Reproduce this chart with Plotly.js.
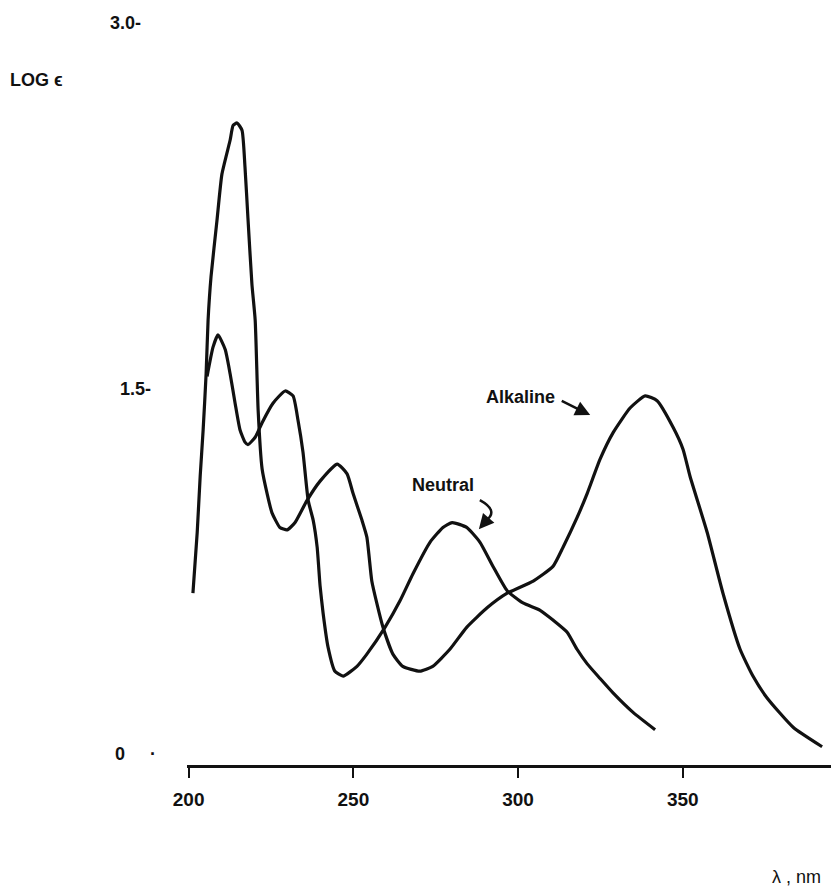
<!DOCTYPE html>
<html>
<head>
<meta charset="utf-8">
<script src="https://cdn.plot.ly/plotly-3.0.1.min.js"></script>
<style>
html,body{margin:0;padding:0;background:#fff;}
#chart{width:831px;height:888px;}
</style>
</head>
<body>
<div id="chart"></div>
<script>
// Alkaline curve (wavelength nm, log epsilon)
var alkalineNm = [201.3,202.6,203.5,204.4,205.3,205.9,206.8,208.6,210.1,212.6,213.5,214.7,216.2,217.1,218.0,219.2,220.2,221.1,222.3,223.8,225.3,227.7,229.9,232.3,235.9,239.9,245.1,248.1,249.9,252.6,254.1,255.6,257.1,259.0,262.0,265.0,270.2,274.1,279.3,284.4,290.6,296.7,304.6,310.6,313.7,317.9,321.0,324.9,328.9,334.0,338.6,342.2,347.1,350.1,352.2,357.4,362.2,367.4,371.3,375.6,383.5,392.3];
var alkalineLog = [0.66,0.91,1.14,1.33,1.56,1.78,1.96,2.19,2.38,2.52,2.58,2.59,2.56,2.41,2.20,1.93,1.78,1.41,1.17,1.07,0.99,0.93,0.92,0.95,1.04,1.12,1.19,1.15,1.07,0.96,0.89,0.71,0.62,0.52,0.41,0.36,0.34,0.36,0.43,0.52,0.60,0.66,0.71,0.77,0.85,0.97,1.07,1.21,1.32,1.42,1.47,1.45,1.34,1.25,1.14,0.91,0.66,0.43,0.32,0.23,0.11,0.03];

// Neutral curve
var neutralNm = [205.6,207.4,208.9,211.1,212.6,214.1,215.6,217.1,218.0,220.2,222.3,225.6,229.3,231.7,233.2,234.7,236.3,237.8,239.0,239.9,240.8,242.3,244.4,246.9,251.1,254.1,259.6,264.2,268.1,273.3,277.2,280.0,284.4,288.4,292.4,296.7,301.5,306.7,310.6,314.9,317.9,321.0,324.9,328.9,335.0,341.6];
var neutralLog = [1.55,1.67,1.72,1.66,1.56,1.44,1.33,1.28,1.27,1.30,1.36,1.44,1.49,1.47,1.37,1.24,1.04,0.96,0.85,0.69,0.58,0.44,0.34,0.32,0.36,0.41,0.52,0.63,0.74,0.87,0.93,0.95,0.93,0.87,0.77,0.67,0.62,0.59,0.55,0.50,0.43,0.37,0.31,0.25,0.17,0.10];

// Axis ticks
var xTickVals = [200,250,300,350];
var xTickText = ['200','250','300','350'];
var yTickVals = [0,1.5,3.0];
var yTickText = ['0\u00a0\u00a0\u00a0\u00a0\u00a0\u00b7','1.5-\u00a0','3.0-\u00a0\u00a0\u00a0'];

var lineStyle = {color:'#111', width:3.2, shape:'spline', smoothing:0.5};

var traces = [
  {x: alkalineNm, y: alkalineLog, mode:'lines', line: lineStyle, name:'Alkaline', hoverinfo:'x+y'},
  {x: neutralNm, y: neutralLog, mode:'lines', line: lineStyle, name:'Neutral', hoverinfo:'x+y'}
];

var font = {family:'Arial, Liberation Sans, sans-serif', color:'#111'};

var layout = {
  width:831, height:888,
  margin:{l:187, r:0, t:15, b:123, pad:0},
  paper_bgcolor:'#fff', plot_bgcolor:'#fff',
  showlegend:false,
  font: font,
  xaxis:{
    range:[199.5,395],
    showgrid:false, zeroline:false,
    showline:true, linecolor:'#111', linewidth:2.5,
    ticks:'outside', ticklen:10, tickwidth:2, tickcolor:'#111',
    tickvals:xTickVals, ticktext:xTickText,
    tickfont:{family:font.family, size:19, color:'#111', weight:'bold'},
    ticklabelstandoff:6
  },
  yaxis:{
    range:[-0.045,3.033],
    showgrid:false, zeroline:false, showline:false,
    ticks:'',
    tickvals:yTickVals, ticktext:yTickText,
    tickfont:{family:font.family, size:18, color:'#111', weight:'bold'},
    ticklabelstandoff:30
  },
  annotations:[
    {text:'LOG \u03f5', xref:'paper', yref:'paper', x:-0.278, y:0.913, xanchor:'left', yanchor:'middle', showarrow:false,
     font:{family:font.family, size:18, color:'#111', weight:'bold'}},
    {text:'\u03bb , nm', xref:'paper', yref:'paper', x:0.9876, y:-0.149, xanchor:'right', yanchor:'middle', showarrow:false,
     font:{family:font.family, size:18, color:'#111'}},
    {text:'Alkaline', xref:'x', yref:'y', x:300.6, y:1.465, showarrow:false,
     font:{family:font.family, size:18, color:'#111', weight:'bold'}},
    {text:'Neutral', xref:'x', yref:'y', x:277.2, y:1.104, showarrow:false,
     font:{family:font.family, size:18, color:'#111', weight:'bold'}},
    {text:'', xref:'x', yref:'y', axref:'x', ayref:'y', x:321.9, y:1.391, ax:312.8, ay:1.452,
     showarrow:true, arrowhead:2, arrowsize:1.2, arrowwidth:2.5, arrowcolor:'#111'},
    {text:'', xref:'x', yref:'y', axref:'x', ayref:'y', x:288.1, y:0.923, ax:290.6, ay:0.962,
     showarrow:true, arrowhead:2, arrowsize:1.2, arrowwidth:2.5, arrowcolor:'#111'}
  ],
  shapes:[
    {type:'path', xref:'x', yref:'y', path:'M 288.4,1.042 Q 294.0,1.0 290.6,0.962',
     line:{color:'#111', width:2.5}}
  ]
};

Plotly.newPlot('chart', traces, layout, {displayModeBar:false, staticPlot:true});
</script>
</body>
</html>
